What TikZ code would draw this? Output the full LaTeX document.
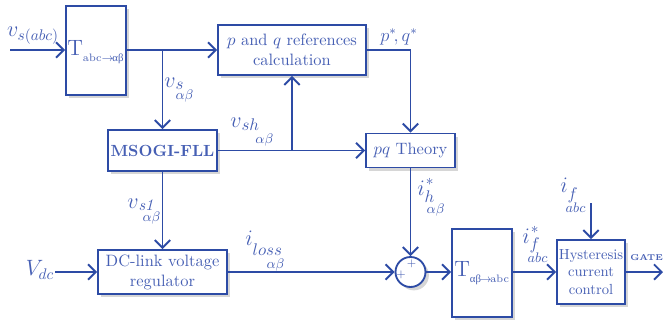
\documentclass[tikz,border=0pt]{standalone}
\usepackage{fontspec}
\newfontfamily\grkfont{Liberation Serif}
\usetikzlibrary{arrows.meta,shadows}
\definecolor{lncol}{RGB}{45,75,165}
\definecolor{txcol}{RGB}{70,95,180}
% #1 main, #2 sub, #3 sub lowering, #4 x offset of second sub, #5 second sub, #6 its lowering, #7 superscript
\newcommand\lab[7]{\mbox{$#1$\rlap{\raisebox{6.5pt}{\kern0.8pt\normalsize$#7$}}\rlap{\hspace{#4}\raisebox{-#6}{\fontsize{8.8}{9}\selectfont$#5$}}\raisebox{-#3}{\fontsize{10.5}{11}\selectfont$#2$}}}
\begin{document}
\begin{tikzpicture}[x=0.65pt,y=-0.65pt,
  box/.style={draw=lncol, line width=1.2pt, fill=white, text=txcol, align=center, inner sep=0pt,
    font=\fontsize{10.7}{13}\selectfont,
    drop shadow={shadow xshift=2.2pt,shadow yshift=-2.2pt,fill=black!16,opacity=1}},
  arr/.style={draw=lncol, line width=1.2pt, -{Straight Barb[length=5pt,width=10pt,line width=1.2pt]}},
  lbl/.style={text=txcol, font=\Large, inner sep=0pt},
  lab/.style={text=txcol, font=\Large, inner sep=0pt, anchor=base west},
  sml/.style={text=txcol, inner sep=0pt}]
\useasboundingbox (0,0) rectangle (663,325);
% boxes
\node[box, minimum width=39pt, minimum height=57.85pt] (Tin) at (96,50.5) {};
\node[sml, anchor=west] (Tinl) at (67,52) {{\Large T}\raisebox{-4pt}{\scriptsize abc$\rightarrow$\kern-1pt{\grkfont αβ}}};
\node[box, minimum width=96.2pt, minimum height=32.5pt] (pqref) at (292,50) {$p$ and $q$ references\\calculation};
\node[box, minimum width=70.85pt, minimum height=26.65pt, font=\fontsize{10.5}{13}\selectfont\bfseries] (msogi) at (162.5,150.5) {MSOGI-FLL};
\node[box, minimum width=57.85pt, minimum height=22.1pt] (pqth) at (410.5,150.5) {$pq$ Theory};
\node[box, minimum width=83.85pt, minimum height=28.6pt] (dc) at (162.5,272) {DC-link voltage\\regulator};
\node[box, circle, minimum size=19.5pt] (sum) at (410.5,272) {};
\node[sml, font=\scriptsize] (p1) at (401,275) {+};
\node[sml, font=\scriptsize] (p2) at (411.5,264) {+};
\node[box, minimum width=39pt, minimum height=57.2pt] (Tout) at (482,273) {};
\node[sml, anchor=west] (Toutl) at (454,273) {{\Large T}\raisebox{-4pt}{\scriptsize{\grkfont αβ}\kern-1pt$\rightarrow$\kern-1pt abc}};
\node[box, minimum width=44.2pt, minimum height=41.6pt, font=\fontsize{9.5}{11.5}\selectfont] (hyst) at (591,272) {Hysteresis\\current\\control};
% coordinates
\coordinate (vin) at (10,50);
\coordinate (b1) at (162.5,50);
\coordinate (b2) at (292,150.5);
\coordinate (vdcin) at (55,272);
\coordinate (ifin) at (591,203);
\coordinate (gout) at (663,272);
% connectors
\draw[arr] (vin) -- (Tin.west|-vin);
\draw[arr] (Tin.east|-vin) -- (pqref.west);
\draw[arr] (b1) -- (msogi.north);
\draw[arr] (msogi.east) -- (pqth.west);
\draw[arr] (b2) -- (pqref.south);
\draw[arr] (pqref.east) -| (pqth.north);
\draw[arr] (pqth.south) -- (sum.north);
\draw[arr] (msogi.south) -- (dc.north);
\draw[arr] (vdcin) -- (dc.west);
\draw[arr] (dc.east) -- (sum.west);
\draw[arr] (sum.east) -- (Tout.west|-sum.east);
\draw[arr] (Tout.east|-hyst.west) -- (hyst.west);
\draw[arr] (ifin) -- (hyst.north);
\draw[arr] (hyst.east) -- (gout);
% labels
\node[lbl] (lvin) at (33,36) {$v_{s(abc)}$};
\node[lab] (lvs) at (164,87) {\lab{v}{s}{1.5pt}{0pt}{\alpha\beta}{8pt}{}};
\node[lab] (lvsh) at (230,127) {\lab{v}{sh}{2pt}{9pt}{\alpha\beta}{10.5pt}{}};
\node[sml, font=\large] (lpq) at (399,37) {$p^{*}\!,q^{*}$};
\node[lab] (lih) at (417,195) {\lab{i}{h}{5pt}{1.3pt}{\alpha\beta}{12pt}{*}};
\node[lab] (lvs1) at (127,208) {\lab{v}{\mathit{s1}}{1.3pt}{2.6pt}{\alpha\beta}{8.5pt}{}};
\node[lbl] (lvdc) at (40,270) {$V_{dc}$};
\node[lab] (lil) at (245,245) {\lab{i}{loss}{7pt}{9pt}{\alpha\beta}{15pt}{}};
\node[lab] (lif) at (522,243) {\lab{i}{f}{4pt}{-1.3pt}{abc}{12.5pt}{*}};
\node[lab] (lifm) at (560,192) {\lab{i}{f}{5pt}{-1.3pt}{abc}{13.5pt}{}};
\node[sml, font=\fontsize{5.5}{6}\selectfont\bfseries, anchor=west] (gate) at (630,258) {GATE};
\end{tikzpicture}
\end{document}
